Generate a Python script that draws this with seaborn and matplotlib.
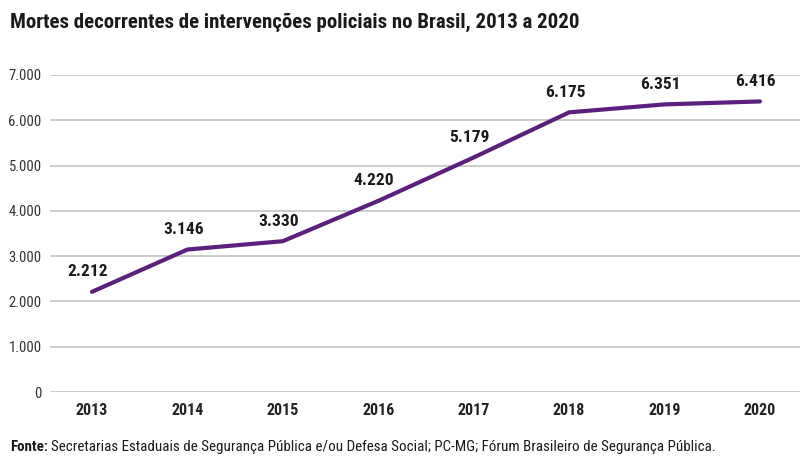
import matplotlib
matplotlib.use('Agg')
from matplotlib import pyplot as plt
import seaborn as sns
import pandas as pd

# dados
anos = [2013, 2014, 2015, 2016, 2017, 2018, 2019, 2020]
mortes = [2212, 3146, 3330, 4220, 5179, 6175, 6351, 6416]
rotulos = ['2.212', '3.146', '3.330', '4.220', '5.179', '6.175', '6.351', '6.416']
yticks = [0, 1000, 2000, 3000, 4000, 5000, 6000, 7000]
ytick_labels = ['0', '1.000', '2.000', '3.000', '4.000', '5.000', '6.000', '7.000']

df = pd.DataFrame({'ano': anos, 'mortes': mortes})

sns.set_style('white')
plt.rcParams['font.family'] = ['Roboto Condensed', 'DejaVu Sans']

fig = plt.figure(figsize=(8.1, 4.57), dpi=100)
ax = fig.add_axes([50 / 810, 1 - 392 / 457, 750 / 810, (392 - 75) / 457])

sns.lineplot(data=df, x='ano', y='mortes', color='#5c1f7d', linewidth=3,
             solid_capstyle='round', ax=ax, zorder=3)

for a, m, r in zip(anos, mortes, rotulos):
    ax.annotate(r, (a, m), xytext=(-3, 9), textcoords='offset points',
                ha='center', va='bottom', fontsize=12.5, fontweight='bold',
                color='#1a1a1a')

ax.set_ylim(0, 7000)
ax.set_xlim(2012.56, 2020.42)
ax.set_yticks(yticks)
ax.set_yticklabels(ytick_labels)
ax.set_xticks(anos)
ax.set_xticklabels([str(a) for a in anos])
ax.tick_params(axis='y', length=0, pad=6, labelsize=10.5, labelcolor='#333333')
ax.tick_params(axis='x', length=0, pad=8, labelsize=11.5, labelcolor='#222222')
for lab in ax.get_xticklabels():
    lab.set_fontweight('bold')
ax.grid(axis='y', color='#c8c8c8', linewidth=1.3)
ax.grid(axis='x', visible=False)
ax.set_axisbelow(True)
for s in ax.spines.values():
    s.set_visible(False)
ax.set_xlabel('')
ax.set_ylabel('')

fig.text(10 / 810, 1 - 22 / 457, 'Mortes decorrentes de intervenções policiais no Brasil, 2013 a 2020',
         fontsize=15, fontweight='bold', color='#1a1a1a', va='center', ha='left')

t1 = fig.text(10 / 810, 1 - 447 / 457, 'Fonte:', fontsize=10.8, fontweight='bold',
              color='#1a1a1a', va='center', ha='left')
fig.canvas.draw()
bb = t1.get_window_extent()
fig.text((bb.x1 + 3) / 810, 1 - 447 / 457,
         'Secretarias Estaduais de Segurança Pública e/ou Defesa Social; PC-MG; Fórum Brasileiro de Segurança Pública.',
         fontsize=10.8, color='#1a1a1a', va='center', ha='left')

fig.savefig('out.png', dpi=100)
